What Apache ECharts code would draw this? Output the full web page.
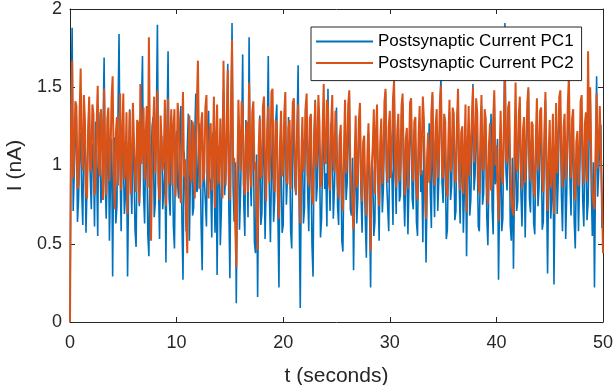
<!DOCTYPE html>
<html>
<head>
<meta charset="utf-8">
<script src="https://cdn.jsdelivr.net/npm/echarts@6/dist/echarts.min.js"></script>
<style>
html,body{margin:0;padding:0;background:#fff;}
#chart{width:613px;height:385px;}
</style>
</head>
<body>
<div id="chart"></div>
<script>
// Time span in seconds; samples are evenly spaced over it
const tStart = 0;
const tEnd = 50;
const seriesNames = ["Postsynaptic Current PC1", "Postsynaptic Current PC2"];
const xTicks = [0, 10, 20, 30, 40, 50];
const yTicks = [0, 0.5, 1, 1.5, 2];

// Postsynaptic Current PC1 (nA)
const pc1 = [
0, 1.35, 1.88, 0.71, 0.95, 1.18, 1.32, 0.64, 0.78, 1.07, 1.21, 0.83, 0.62, 1.26, 1.15, 0.57, 0.88, 1.19, 1.41, 0.93,
0.72, 1.14, 1.05, 0.61, 1.28, 0.98, 0.55, 1.34, 1.12, 0.76, 0.84, 1.22, 1.69, 0.89, 0.66, 1.03, 1.24, 0.52, 0.92, 1.17,
0.29, 1.09, 1.18, 0.63, 0.74, 1.31, 1.84, 0.97, 0.58, 1.24, 1.08, 0.69, 0.81, 1.15, 0.29, 0.86, 1.36, 0.91, 0.69, 1.20,
1.02, 0.59, 0.48, 1.13, 1.27, 0.74, 0.91, 1.38, 1.70, 0.82, 0.63, 1.11, 1.14, 0.56, 0.42, 1.06, 0.97, 1.25, 1.31, 0.67,
0.76, 1.29, 1.90, 0.88, 0.53, 1.17, 1.19, 0.72, 0.85, 1.03, 0.38, 1.21, 1.73, 0.79, 0.68, 1.32, 1.06, 0.61, 0.47, 1.14,
1.22, 0.87, 0.79, 1.24, 1.38, 0.65, 0.27, 1.09, 0.94, 0.58, 1.11, 1.33, 0.52, 0.95, 1.29, 0.68, 0.73, 1.18, 1.46, 0.83,
0.86, 1.27, 1.16, 0.62, 0.33, 1.05, 1.04, 0.77, 0.61, 1.23, 1.35, 0.92, 0.89, 0.54, 1.21, 1.08, 0.57, 1.12, 0.30, 0.98,
1.13, 0.49, 0.71, 1.26, 1.48, 0.81, 0.92, 1.19, 1.65, 0.73, 0.28, 1.14, 1.91, 0.86, 0.64, 1.02, 0.12, 0.95, 1.26, 0.59,
0.83, 1.17, 1.71, 0.76, 0.55, 1.29, 1.09, 0.67, 1.82, 0.98, 0.74, 1.21, 1.18, 0.51, 0.44, 1.07, 0.16, 0.89, 1.32, 0.62,
0.69, 1.24, 1.07, 0.53, 0.88, 1.15, 1.70, 0.84, 0.51, 0.96, 1.23, 0.64, 0.78, 1.28, 1.39, 0.71, 0.22, 1.10, 1.01, 0.57,
0.62, 1.19, 1.28, 0.75, 0.93, 1.31, 1.15, 0.58, 0.47, 1.09, 1.34, 0.87, 0.81, 1.22, 1.64, 0.69, 0.09, 0.97, 1.17, 0.63,
0.73, 1.36, 1.25, 0.82, 0.58, 1.13, 1.06, 0.49, 0.29, 1.18, 1.42, 0.77, 0.87, 1.25, 1.12, 0.54, 0.66, 1.04, 1.31, 0.85,
0.95, 0.61, 1.49, 0.93, 0.71, 1.27, 1.19, 0.66, 0.84, 1.11, 1.37, 0.74, 0.62, 1.20, 1.08, 0.52, 0.45, 0.99, 1.26, 0.78,
0.89, 1.16, 1.44, 0.72, 0.68, 1.05, 0.33, 0.87, 1.15, 0.63, 0.79, 1.24, 1.33, 0.81, 0.57, 1.12, 1.02, 0.66, 0.41, 0.94,
1.21, 0.73, 0.22, 1.03, 0.96, 0.55, 0.64, 1.17, 1.29, 0.86, 0.52, 1.08, 1.11, 0.70, 0.86, 1.25, 1.47, 0.91, 0.74, 0.58,
1.18, 1.01, 0.93, 0.62, 1.55, 0.98, 0.69, 1.14, 1.24, 0.77, 0.81, 1.32, 1.40, 0.85, 0.61, 0.97, 1.07, 0.56, 0.88, 1.20,
1.36, 0.79, 0.72, 1.23, 1.14, 0.64, 0.55, 1.10, 1.28, 0.83, 0.97, 0.51, 1.19, 0.92, 0.38, 0.86, 1.05, 1.27, 0.83, 0.60,
1.45, 0.94, 0.67, 1.16, 1.22, 0.71, 0.91, 1.35, 1.58, 0.89, 0.76, 1.13, 1.09, 0.53, 0.59, 1.04, 1.34, 0.78, 0.87, 1.21,
1.16, 0.65, 0.71, 1.28, 1.41, 0.90, 0.63, 1.07, 1.03, 0.57, 0.85, 1.19, 0.42, 0.96, 1.27, 0.68, 0.78, 1.15, 1.52, 0.84,
0.94, 1.30, 1.13, 0.61, 0.58, 1.02, 1.38, 0.75, 0.82, 1.26, 1.21, 0.67, 0.49, 0.93, 1.10, 1.33, 0.73, 0.56, 1.44, 0.88,
0.91, 1.17, 0.27, 0.80, 1.19, 0.58, 0.66, 1.23, 1.91, 0.96, 0.84, 1.12, 1.30, 0.62, 0.52, 1.05, 0.34, 0.87, 1.25, 0.71,
0.77, 1.20, 1.39, 0.83, 0.61, 0.98, 1.12, 0.54, 0.95, 1.29, 1.48, 0.79, 0.70, 1.16, 1.05, 0.63, 0.56, 1.08, 1.33, 0.74,
0.86, 1.22, 1.18, 0.59, 0.64, 1.10, 1.42, 0.88, 0.31, 0.92, 1.09, 0.66, 0.79, 1.21, 0.24, 0.85, 1.27, 0.69, 0.92, 1.34,
1.36, 0.81, 0.58, 1.02, 1.15, 0.53, 0.83, 1.26, 1.51, 0.90, 0.68, 1.13, 1.20, 0.64, 0.47, 0.99, 1.03, 0.58, 0.89, 1.24,
1.32, 0.77, 0.61, 1.08, 1.17, 0.65, 0.76, 1.19, 1.45, 0.86, 0.55, 1.02, 0.22, 0.94, 1.57, 0.80, 0.81, 1.14, 1.26, 0.60,
0.62
];

// Postsynaptic Current PC2 (nA)
const pc2 = [
0, 1.28, 1.67, 0.92, 1.05, 1.41, 1.38, 0.85, 0.88, 1.33, 1.62, 1.04, 0.97, 1.45, 1.29, 0.83, 0.79, 1.22, 1.44, 0.96,
1.02, 1.39, 1.33, 0.81, 0.86, 1.27, 1.51, 0.99, 0.93, 1.36, 1.24, 0.78, 1.49, 1.08, 0.81, 1.30, 1.37, 0.90, 1.06, 1.43,
1.57, 0.96, 0.72, 1.21, 1.31, 0.87, 1.12, 1.46, 0.84, 1.19, 1.46, 0.91, 0.98, 1.34, 0.69, 1.05, 1.35, 0.82, 1.03, 1.40,
1.41, 0.94, 0.83, 1.29, 1.27, 0.76, 1.52, 1.01, 1.09, 1.37, 0.91, 1.18, 1.38, 0.86, 1.82, 1.13, 0.52, 0.99, 1.26, 1.44,
0.95, 1.20, 1.48, 0.89, 0.78, 1.32, 1.33, 0.97, 1.07, 1.42, 0.74, 1.11, 1.43, 0.88, 1.15, 1.36, 0.87, 1.24, 1.36, 0.80,
0.99, 1.40, 1.29, 0.85, 0.76, 1.18, 1.47, 0.93, 1.04, 0.67, 0.44, 1.02, 1.32, 0.95, 0.89, 1.28, 1.21, 0.79, 1.03, 1.39,
1.67, 1.09, 0.85, 1.26, 1.34, 0.90, 0.96, 1.37, 1.45, 1.00, 0.79, 1.23, 1.27, 0.84, 1.08, 1.44, 0.73, 1.16, 1.39, 0.88,
0.92, 1.30, 1.31, 0.79, 1.67, 1.10, 0.87, 1.25, 1.61, 0.94, 0.78, 1.37, 1.80, 1.02, 1.05, 0.62, 0.35, 0.90, 1.42, 1.14,
0.97, 1.41, 1.36, 0.88, 0.81, 1.19, 1.28, 0.83, 1.53, 1.07, 0.86, 1.34, 1.41, 0.97, 1.02, 0.71, 0.46, 1.11, 1.30, 0.92,
0.94, 1.38, 1.44, 1.01, 0.77, 1.22, 1.38, 0.89, 1.06, 1.47, 1.49, 0.95, 0.83, 1.29, 1.25, 0.80, 0.66, 1.14, 1.35, 0.93,
0.98, 1.33, 1.47, 0.91, 0.88, 1.24, 1.29, 0.85, 1.11, 1.40, 1.43, 1.00, 0.82, 1.21, 1.39, 0.87, 0.63, 1.05, 1.31, 0.96,
1.04, 1.37, 1.46, 0.94, 0.87, 1.30, 1.33, 0.81, 0.75, 1.16, 1.41, 0.99, 1.08, 1.45, 1.28, 0.86, 0.91, 1.23, 1.52, 1.03,
1.01, 1.42, 1.37, 0.89, 0.84, 1.26, 1.45, 1.02, 0.96, 1.35, 1.34, 0.88, 0.79, 1.18, 1.26, 0.83, 0.71, 1.10, 1.42, 0.95,
1.06, 1.39, 1.48, 0.97, 0.88, 0.72, 0.59, 1.04, 1.32, 0.86, 0.93, 1.29, 1.40, 0.91, 0.77, 1.15, 1.19, 0.82, 0.68, 1.07,
1.27, 0.93, 0.45, 0.98, 1.12, 1.36, 0.82, 1.20, 1.39, 0.90, 0.74, 1.14, 1.30, 0.88, 1.03, 1.41, 1.49, 0.97, 0.89, 1.25,
1.35, 0.92, 1.07, 1.43, 1.54, 1.00, 0.86, 1.22, 1.33, 0.90, 0.98, 1.38, 1.46, 1.05, 0.81, 1.17, 1.24, 0.85, 1.09, 1.40,
1.43, 0.99, 0.90, 1.28, 1.31, 0.87, 0.78, 1.19, 1.38, 0.94, 1.12, 1.44, 1.29, 0.83, 0.66, 1.06, 1.21, 0.89, 0.95, 1.34,
1.47, 1.03, 0.87, 1.25, 1.36, 0.92, 1.05, 1.40, 1.51, 0.98, 0.92, 1.33, 1.28, 0.86, 0.80, 1.18, 1.42, 0.96, 1.01, 1.37,
1.33, 0.91, 0.89, 1.27, 1.49, 1.04, 0.84, 1.21, 1.25, 0.82, 1.06, 1.39, 0.70, 1.08, 1.38, 0.93, 0.94, 1.31, 1.50, 1.02,
1.10, 1.43, 1.34, 0.90, 0.82, 1.20, 1.45, 0.97, 0.99, 1.36, 1.30, 0.86, 0.75, 1.13, 1.27, 0.84, 0.91, 1.29, 1.48, 1.00,
1.13, 0.87, 0.64, 1.09, 1.35, 0.93, 0.88, 1.26, 1.56, 1.05, 1.02, 1.37, 1.41, 0.95, 0.79, 0.72, 0.68, 1.12, 1.53, 0.99,
0.96, 1.32, 1.44, 0.98, 0.85, 1.23, 1.31, 0.89, 1.08, 1.40, 1.50, 1.01, 0.90, 1.28, 1.26, 0.84, 0.80, 1.17, 1.43, 0.97,
1.04, 1.35, 1.37, 0.92, 0.83, 1.21, 1.47, 1.00, 0.71, 1.06, 1.29, 0.86, 0.97, 1.33, 0.69, 1.02, 1.40, 0.95, 1.11, 1.44,
1.48, 1.02, 0.86, 1.24, 1.33, 0.91, 1.01, 1.39, 1.57, 1.07, 0.92, 1.30, 1.36, 0.89, 0.78, 1.15, 1.22, 0.87, 1.06, 1.41,
1.45, 0.99, 0.88, 1.27, 1.34, 0.90, 1.73, 1.16, 1.50, 1.03, 0.84, 0.76, 0.72, 1.09, 1.46, 0.98, 1.12, 1.38, 1.39, 0.82,
0.44
];

const toPairs = arr => arr.map((v, i) => [tStart + i * (tEnd - tStart) / (arr.length - 1), v]);

const axisColor = '#262626';
const fontFamily = '"Liberation Sans", Arial, Helvetica, sans-serif';

const chart = echarts.init(document.getElementById('chart'), null, {renderer: 'canvas'});

const baseX = {
  type: 'value', min: xTicks[0], max: xTicks[xTicks.length - 1], interval: 10,
  axisLine: {show: true, onZero: false, lineStyle: {color: axisColor, width: 1}},
  axisTick: {show: true, inside: true, length: 5, lineStyle: {color: axisColor}},
  splitLine: {show: false}
};
const baseY = {
  type: 'value', min: yTicks[0], max: yTicks[yTicks.length - 1], interval: 0.5,
  axisLine: {show: true, onZero: false, lineStyle: {color: axisColor, width: 1}},
  axisTick: {show: true, inside: true, length: 5, lineStyle: {color: axisColor}},
  splitLine: {show: false}
};

chart.setOption({
  animation: false,
  backgroundColor: '#ffffff',
  textStyle: {fontFamily: fontFamily},
  grid: {left: 70, right: 10, top: 9, bottom: 63, containLabel: false, outerBoundsMode: 'none'},
  legend: {
    data: seriesNames,
    orient: 'vertical',
    left: 311, top: 27,
    padding: [6, 8, 9, 5],
    itemGap: 4.6,
    itemWidth: 57,
    itemHeight: 2,
    icon: 'rect',
    backgroundColor: '#ffffff',
    borderColor: axisColor,
    borderWidth: 1,
    borderRadius: 0,
    textStyle: {color: '#000', fontSize: 17, lineHeight: 17, fontFamily: fontFamily, padding: [0, 0, 0, 0]}
  },
  xAxis: [
    Object.assign({}, baseX, {
      position: 'bottom',
      name: 't (seconds)', nameLocation: 'middle', nameGap: 44,
      nameTextStyle: {color: axisColor, fontSize: 21, fontFamily: fontFamily},
      axisLabel: {show: true, color: axisColor, fontSize: 18, margin: 12, fontFamily: fontFamily}
    }),
    Object.assign({}, baseX, {position: 'top', axisLabel: {show: false}})
  ],
  yAxis: [
    Object.assign({}, baseY, {
      position: 'left',
      name: 'I (nA)', nameLocation: 'middle', nameGap: 39,
      nameTextStyle: {color: axisColor, fontSize: 21, fontFamily: fontFamily},
      axisLabel: {show: true, color: axisColor, fontSize: 18, margin: 8, fontFamily: fontFamily}
    }),
    Object.assign({}, baseY, {position: 'right', axisLabel: {show: false}})
  ],
  series: [
    {
      name: seriesNames[0], type: 'line', data: toPairs(pc1),
      xAxisIndex: 0, yAxisIndex: 0,
      showSymbol: false, symbol: 'none', sampling: null,
      lineStyle: {color: '#0072BD', width: 1.6},
      itemStyle: {color: '#0072BD'},
      z: 2
    },
    {
      name: seriesNames[1], type: 'line', data: toPairs(pc2),
      xAxisIndex: 0, yAxisIndex: 0,
      showSymbol: false, symbol: 'none', sampling: null,
      lineStyle: {color: '#D95319', width: 2},
      itemStyle: {color: '#D95319'},
      z: 3
    }
  ]
});
</script>
</body>
</html>
